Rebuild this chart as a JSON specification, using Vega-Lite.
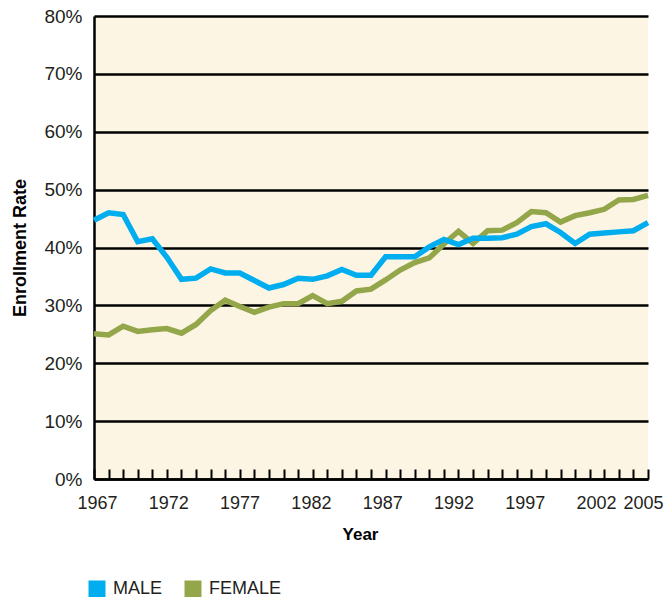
{
  "$schema": "https://vega.github.io/schema/vega-lite/v6.json",
  "autosize": {"type": "none"},
  "width": 554,
  "height": 463,
  "padding": {"left": 94, "top": 16, "right": 20, "bottom": 118},
  "background": "white",
  "config": {
    "view": {"fill": "#FCF5E4", "stroke": null},
    "font": "Liberation Sans"
  },
  "data": {
    "values": [
      {"year": 1967, "sex": "FEMALE", "rate": 25.1},
      {"year": 1968, "sex": "FEMALE", "rate": 24.9},
      {"year": 1969, "sex": "FEMALE", "rate": 26.4},
      {"year": 1970, "sex": "FEMALE", "rate": 25.5},
      {"year": 1971, "sex": "FEMALE", "rate": 25.8},
      {"year": 1972, "sex": "FEMALE", "rate": 26.0},
      {"year": 1973, "sex": "FEMALE", "rate": 25.2},
      {"year": 1974, "sex": "FEMALE", "rate": 26.7},
      {"year": 1975, "sex": "FEMALE", "rate": 29.1},
      {"year": 1976, "sex": "FEMALE", "rate": 30.9},
      {"year": 1977, "sex": "FEMALE", "rate": 29.8},
      {"year": 1978, "sex": "FEMALE", "rate": 28.8},
      {"year": 1979, "sex": "FEMALE", "rate": 29.7},
      {"year": 1980, "sex": "FEMALE", "rate": 30.3},
      {"year": 1981, "sex": "FEMALE", "rate": 30.3},
      {"year": 1982, "sex": "FEMALE", "rate": 31.7},
      {"year": 1983, "sex": "FEMALE", "rate": 30.3},
      {"year": 1984, "sex": "FEMALE", "rate": 30.7},
      {"year": 1985, "sex": "FEMALE", "rate": 32.5},
      {"year": 1986, "sex": "FEMALE", "rate": 32.8},
      {"year": 1987, "sex": "FEMALE", "rate": 34.4},
      {"year": 1988, "sex": "FEMALE", "rate": 36.1},
      {"year": 1989, "sex": "FEMALE", "rate": 37.4},
      {"year": 1990, "sex": "FEMALE", "rate": 38.2},
      {"year": 1991, "sex": "FEMALE", "rate": 40.6},
      {"year": 1992, "sex": "FEMALE", "rate": 42.8},
      {"year": 1993, "sex": "FEMALE", "rate": 40.7},
      {"year": 1994, "sex": "FEMALE", "rate": 42.9},
      {"year": 1995, "sex": "FEMALE", "rate": 43.0},
      {"year": 1996, "sex": "FEMALE", "rate": 44.3},
      {"year": 1997, "sex": "FEMALE", "rate": 46.2},
      {"year": 1998, "sex": "FEMALE", "rate": 46.0},
      {"year": 1999, "sex": "FEMALE", "rate": 44.4},
      {"year": 2000, "sex": "FEMALE", "rate": 45.5},
      {"year": 2001, "sex": "FEMALE", "rate": 46.0},
      {"year": 2002, "sex": "FEMALE", "rate": 46.6},
      {"year": 2003, "sex": "FEMALE", "rate": 48.2},
      {"year": 2004, "sex": "FEMALE", "rate": 48.3},
      {"year": 2005, "sex": "FEMALE", "rate": 49.0},
      {"year": 1967, "sex": "MALE", "rate": 44.7},
      {"year": 1968, "sex": "MALE", "rate": 46.0},
      {"year": 1969, "sex": "MALE", "rate": 45.7},
      {"year": 1970, "sex": "MALE", "rate": 41.0},
      {"year": 1971, "sex": "MALE", "rate": 41.5},
      {"year": 1972, "sex": "MALE", "rate": 38.3},
      {"year": 1973, "sex": "MALE", "rate": 34.5},
      {"year": 1974, "sex": "MALE", "rate": 34.7},
      {"year": 1975, "sex": "MALE", "rate": 36.3},
      {"year": 1976, "sex": "MALE", "rate": 35.6},
      {"year": 1977, "sex": "MALE", "rate": 35.6},
      {"year": 1978, "sex": "MALE", "rate": 34.3},
      {"year": 1979, "sex": "MALE", "rate": 33.0},
      {"year": 1980, "sex": "MALE", "rate": 33.6},
      {"year": 1981, "sex": "MALE", "rate": 34.7},
      {"year": 1982, "sex": "MALE", "rate": 34.5},
      {"year": 1983, "sex": "MALE", "rate": 35.1},
      {"year": 1984, "sex": "MALE", "rate": 36.2},
      {"year": 1985, "sex": "MALE", "rate": 35.2},
      {"year": 1986, "sex": "MALE", "rate": 35.2},
      {"year": 1987, "sex": "MALE", "rate": 38.4},
      {"year": 1988, "sex": "MALE", "rate": 38.4},
      {"year": 1989, "sex": "MALE", "rate": 38.4},
      {"year": 1990, "sex": "MALE", "rate": 40.1},
      {"year": 1991, "sex": "MALE", "rate": 41.4},
      {"year": 1992, "sex": "MALE", "rate": 40.5},
      {"year": 1993, "sex": "MALE", "rate": 41.6},
      {"year": 1994, "sex": "MALE", "rate": 41.6},
      {"year": 1995, "sex": "MALE", "rate": 41.7},
      {"year": 1996, "sex": "MALE", "rate": 42.3},
      {"year": 1997, "sex": "MALE", "rate": 43.6},
      {"year": 1998, "sex": "MALE", "rate": 44.1},
      {"year": 1999, "sex": "MALE", "rate": 42.6},
      {"year": 2000, "sex": "MALE", "rate": 40.7},
      {"year": 2001, "sex": "MALE", "rate": 42.3},
      {"year": 2002, "sex": "MALE", "rate": 42.5},
      {"year": 2003, "sex": "MALE", "rate": 42.7},
      {"year": 2004, "sex": "MALE", "rate": 42.9},
      {"year": 2005, "sex": "MALE", "rate": 44.3}
    ]
  },
  "mark": {"type": "line", "strokeWidth": 5.5, "strokeJoin": "miter", "strokeCap": "butt"},
  "encoding": {
    "x": {
      "field": "year",
      "type": "quantitative",
      "scale": {"domain": [1967, 2005], "nice": false, "zero": false},
      "axis": {
        "title": "Year",
        "titleFont": "Liberation Sans",
        "titleFontSize": 17,
        "titleFontWeight": "bold",
        "titleColor": "#000",
        "titlePadding": 14,
        "titleX": 266,
        "values": [1967,1968,1969,1970,1971,1972,1973,1974,1975,1976,1977,1978,1979,1980,1981,1982,1983,1984,1985,1986,1987,1988,1989,1990,1991,1992,1993,1994,1995,1996,1997,1998,1999,2000,2001,2002,2003,2004,2005],
        "format": "d",
        "labelExpr": "((datum.value - 1967) % 5 == 0 || datum.value == 2005) ? datum.label : ''",
        "labelOverlap": false,
        "labelFontSize": 18,
        "labelColor": "#231F20",
        "labelPadding": 25,
        "labelFlush": false,
        "labelOffset": {"expr": "datum.value == 2005 ? -5 : 3 - (datum.value - 1967) * 0.32"},
        "tickSize": -10,
        "tickColor": "#000",
        "tickWidth": 2,
        "domainColor": "#000",
        "domainWidth": 2.5,
        "grid": false
      }
    },
    "y": {
      "field": "rate",
      "type": "quantitative",
      "scale": {"domain": [0, 80], "nice": false},
      "axis": {
        "title": "Enrollment Rate",
        "titleFont": "Liberation Sans",
        "titleFontSize": 18,
        "titleFontWeight": "bold",
        "titleColor": "#000",
        "titlePadding": 14,
        "values": [0,10,20,30,40,50,60,70,80],
        "labelExpr": "datum.value + '%'",
        "labelFontSize": 19,
        "labelColor": "#231F20",
        "labelPadding": 12,
        "ticks": false,
        "domainColor": "#000",
        "domainWidth": 2.5,
        "grid": true,
        "gridColor": "#000",
        "gridWidth": 2.5,
        "gridOpacity": 1
      }
    },
    "color": {
      "field": "sex",
      "type": "nominal",
      "scale": {"domain": ["MALE", "FEMALE"], "range": ["#00AEEF", "#93A64A"]},
      "legend": {
        "title": null,
        "orient": "none",
        "direction": "horizontal",
        "legendX": -6,
        "legendY": 564,
        "symbolType": "square",
        "symbolSize": 64,
        "symbolStrokeWidth": 9,
        "symbolOpacity": 1,
        "labelFontSize": 18,
        "labelColor": "#231F20",
        "labelOffset": 7,
        "columnPadding": 8
      }
    }
  }
}
